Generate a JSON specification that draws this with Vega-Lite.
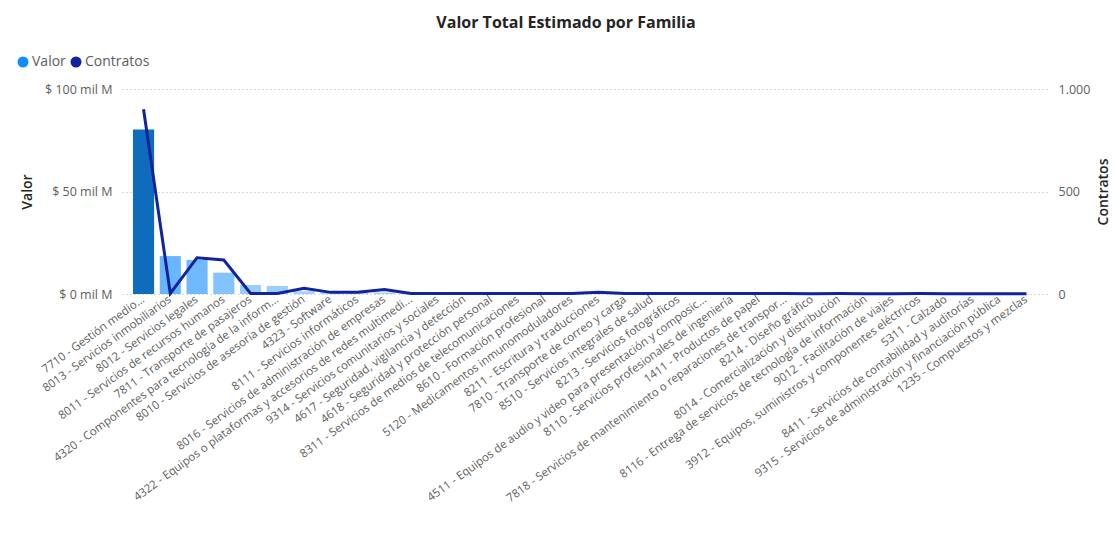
{
  "$schema": "https://vega.github.io/schema/vega-lite/v6.json",
  "autosize": {"type": "none"},
  "width": 926,
  "height": 205,
  "padding": {"left": 122, "top": 89, "right": 66, "bottom": 248},
  "background": "white",
  "config": {
    "view": {"stroke": null},
    "font": "Open Sans",
    "axis": {"labelFont": "Open Sans", "titleFont": "Open Sans", "labelColor": "#605E5C", "titleColor": "#252423"},
    "legend": {"labelFont": "Open Sans"}
  },
  "title": {
    "text": "Valor Total Estimado por Familia",
    "anchor": "middle",
    "dx": -19,
    "offset": 24,
    "fontSize": 16,
    "fontWeight": "bold",
    "color": "#252423",
    "font": "Open Sans"
  },
  "data": {
    "values": [
      {"Familia": "7710 - Gestión medio...", "Valor": 80300000000, "Contratos": 901},
      {"Familia": "8013 - Servicios inmobiliarios", "Valor": 18500000000, "Contratos": 3},
      {"Familia": "8012 - Servicios legales", "Valor": 16600000000, "Contratos": 177},
      {"Familia": "8011 - Servicios de recursos humanos", "Valor": 10400000000, "Contratos": 166},
      {"Familia": "7811 - Transporte de pasajeros", "Valor": 4400000000, "Contratos": 3},
      {"Familia": "4320 - Componentes para tecnología de la inform...", "Valor": 3900000000, "Contratos": 3},
      {"Familia": "8010 - Servicios de asesoría de gestión", "Valor": 1300000000, "Contratos": 28},
      {"Familia": "4323 - Software", "Valor": 900000000, "Contratos": 8},
      {"Familia": "8111 - Servicios informáticos", "Valor": 800000000, "Contratos": 8},
      {"Familia": "8016 - Servicios de administración de empresas", "Valor": 700000000, "Contratos": 22},
      {"Familia": "4322 - Equipos o plataformas y accesorios de redes multimedi...", "Valor": 550000000, "Contratos": 3},
      {"Familia": "9314 - Servicios comunitarios y sociales", "Valor": 450000000, "Contratos": 2},
      {"Familia": "4617 - Seguridad, vigilancia y detección", "Valor": 400000000, "Contratos": 2},
      {"Familia": "4618 - Seguridad y protección personal", "Valor": 350000000, "Contratos": 2},
      {"Familia": "8311 - Servicios de medios de telecomunicaciones", "Valor": 300000000, "Contratos": 2},
      {"Familia": "8610 - Formación profesional", "Valor": 280000000, "Contratos": 2},
      {"Familia": "5120 - Medicamentos inmunomoduladores", "Valor": 250000000, "Contratos": 3},
      {"Familia": "8211 - Escritura y traducciones", "Valor": 220000000, "Contratos": 9},
      {"Familia": "7810 - Transporte de correo y carga", "Valor": 200000000, "Contratos": 3},
      {"Familia": "8510 - Servicios integrales de salud", "Valor": 180000000, "Contratos": 2},
      {"Familia": "8213 - Servicios fotográficos", "Valor": 150000000, "Contratos": 2},
      {"Familia": "4511 - Equipos de audio y video para presentación y composic...", "Valor": 130000000, "Contratos": 2},
      {"Familia": "8110 - Servicios profesionales de ingeniería", "Valor": 120000000, "Contratos": 2},
      {"Familia": "1411 - Productos de papel", "Valor": 100000000, "Contratos": 2},
      {"Familia": "7818 - Servicios de mantenimiento o reparaciones de transpor...", "Valor": 90000000, "Contratos": 2},
      {"Familia": "8214 - Diseño gráfico", "Valor": 80000000, "Contratos": 1},
      {"Familia": "8014 - Comercialización y distribución", "Valor": 70000000, "Contratos": 2},
      {"Familia": "8116 - Entrega de servicios de tecnología de información", "Valor": 60000000, "Contratos": 1},
      {"Familia": "9012 - Facilitación de viajes", "Valor": 50000000, "Contratos": 1},
      {"Familia": "3912 - Equipos, suministros y componentes eléctricos", "Valor": 40000000, "Contratos": 2},
      {"Familia": "5311 - Calzado", "Valor": 30000000, "Contratos": 1},
      {"Familia": "8411 - Servicios de contabilidad y auditorías", "Valor": 25000000, "Contratos": 1},
      {"Familia": "9315 - Servicios de administración y financiación pública", "Valor": 20000000, "Contratos": 1},
      {"Familia": "1235 - Compuestos y mezclas", "Valor": 10000000, "Contratos": 1}
    ]
  },
  "encoding": {
    "x": {
      "field": "Familia",
      "type": "nominal",
      "sort": null,
      "scale": {"paddingInner": 0.21, "paddingOuter": 0.41},
      "axis": {
        "title": null,
        "labelAngle": -36,
        "labelAlign": "right",
        "labelBaseline": "middle",
        "labelFontSize": 11.5,
        "labelLimit": 600,
        "labelPadding": 4,
        "ticks": false,
        "domain": false,
        "labelOverlap": false
      }
    }
  },
  "layer": [
    {
      "mark": {"type": "bar"},
      "encoding": {
        "y": {
          "field": "Valor",
          "type": "quantitative",
          "scale": {"domain": [0, 100000000000], "nice": false},
          "axis": {
            "title": "Valor",
            "titleFontSize": 14,
            "titleFontWeight": 600,
            "titlePadding": 10,
            "values": [0, 50000000000, 100000000000],
            "labelExpr": "'$ ' + format(datum.value / 1e9, 'd') + ' mil M'",
            "labelFontSize": 12.5,
            "labelPadding": 10,
            "ticks": false,
            "domain": false,
            "grid": true,
            "gridColor": "#B3B0AD",
            "gridDash": [1, 3],
            "gridWidth": 1
          }
        },
        "color": {
          "field": "Valor",
          "type": "quantitative",
          "scale": {"type": "linear", "domain": [0, 20000000000, 80000000000], "range": ["#A6D4FF", "#62B4FF", "#0F6CBD"], "clamp": true, "interpolate": "rgb"},
          "legend": null
        }
      }
    },
    {
      "mark": {"type": "line", "strokeWidth": 3, "interpolate": "linear"},
      "encoding": {
        "y": {
          "field": "Contratos",
          "type": "quantitative",
          "scale": {"domain": [0, 1000], "nice": false},
          "axis": {
            "title": "Contratos",
            "orient": "right",
            "titleAngle": -90,
            "titleFontSize": 14,
            "titleFontWeight": 600,
            "titlePadding": 21,
            "values": [0, 500, 1000],
            "labelExpr": "replace(format(datum.value, ','), ',', '.')",
            "labelFontSize": 12.5,
            "labelPadding": 10,
            "ticks": false,
            "domain": false,
            "grid": false
          }
        },
        "stroke": {
          "datum": "Contratos",
          "scale": {"domain": ["Valor", "Contratos"], "range": ["#118DFF", "#12239E"]},
          "legend": {
            "title": null,
            "orient": "none",
            "direction": "horizontal",
            "legendX": -106,
            "legendY": -34,
            "symbolType": "circle",
            "symbolSize": 121,
            "symbolStrokeWidth": 0,
            "labelFontSize": 14,
            "labelColor": "#605E5C",
            "labelOffset": 2,
            "columnPadding": 3,
            "encode": {
              "symbols": {
                "update": {
                  "fill": [{"test": "datum.value === 'Valor'", "value": "#118DFF"}, {"value": "#12239E"}],
                  "strokeWidth": {"value": 0},
                  "opacity": {"value": 1}
                }
              }
            }
          }
        }
      }
    }
  ],
  "resolve": {"scale": {"y": "independent"}}
}
